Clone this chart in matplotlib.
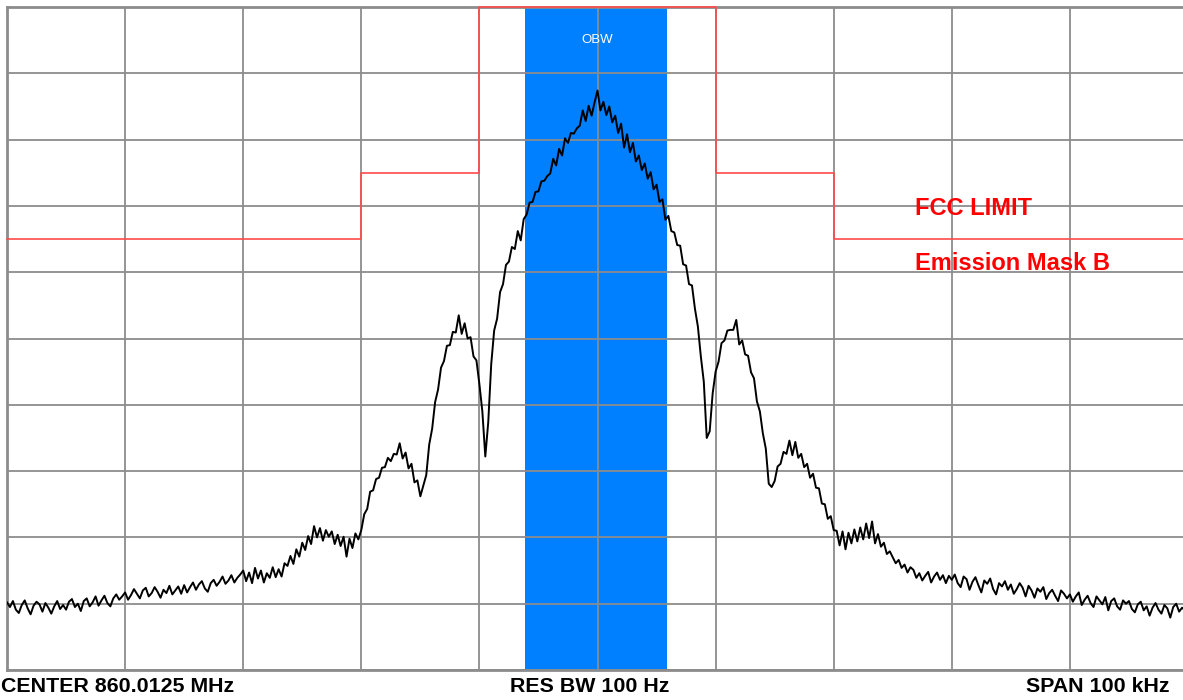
import numpy as np
import matplotlib
matplotlib.use("Agg")
import matplotlib.pyplot as plt

plt.rcParams['font.family'] = ['Liberation Sans', 'DejaVu Sans']

# ---- data -------------------------------------------------------------
# frequency offset from centre (kHz), 0.25 kHz steps
freq_start_khz = -50.0
freq_step_khz = 0.25

# trace level (dB, 0 = top of screen) (5 kHz per row)
trace_db = [
    -89.8, -90.5, -89.6, -90.9, -91.4, -90.2, -89.5, -90.7, -91.6, -90.3, -89.7, -90.1, -91.2, -89.9, -90.6, -91.5, -90.4, -89.6, -90.8, -90.2,
    -90.9, -89.7, -89.3, -90.5, -90.0, -91.1, -89.6, -89.2, -90.4, -89.8, -88.9, -90.3, -89.5, -88.8, -89.9, -90.4, -89.2, -88.6, -89.4, -88.9,
    -88.3, -89.4, -88.7, -87.8, -88.5, -89.2, -88.0, -87.6, -88.9, -88.4, -87.5, -88.2, -89.1, -87.9, -88.4, -87.3, -88.6, -88.0, -87.4, -88.5,
    -87.2, -88.3, -87.5, -86.8, -87.9, -87.1, -86.6, -87.7, -88.2, -86.9, -86.4, -87.3, -86.7, -85.9, -87.0, -86.5, -85.7, -86.8, -86.1, -85.6,
    -85.0, -86.6, -85.3, -86.9, -84.6, -86.2, -85.0, -86.8, -85.4, -86.1, -84.5, -86.0, -84.8, -85.9, -83.9, -84.3, -82.8, -84.0, -81.8, -82.9,
    -80.8, -81.9, -79.8, -81.0, -78.3, -80.0, -78.6, -80.5, -78.9, -79.9, -79.1, -81.0, -79.6, -81.3, -79.9, -82.9, -80.2, -81.6, -79.4, -80.3,
    -78.9, -76.5, -75.7, -73.1, -72.9, -71.2, -71.0, -69.5, -69.4, -68.0, -68.5, -67.4, -67.5, -65.8, -68.1, -67.2, -69.6, -68.9, -71.7, -71.4,
    -73.8, -72.2, -70.6, -66.0, -63.6, -59.6, -57.7, -54.4, -53.4, -51.1, -51.0, -49.0, -49.1, -46.5, -49.3, -47.7, -50.0, -49.8, -52.7, -53.3,
    -56.9, -61.0, -67.8, -62.6, -53.9, -48.8, -47.0, -43.0, -41.8, -38.9, -38.4, -36.2, -36.5, -33.8, -35.2, -32.0, -31.3, -29.5, -29.4, -27.9,
    -27.8, -26.3, -26.2, -25.5, -25.1, -22.9, -23.9, -21.4, -22.4, -19.8, -20.5, -19.0, -19.1, -18.3, -17.9, -15.6, -17.2, -14.9, -16.4, -14.4,
    -12.6, -15.6, -14.3, -16.3, -15.0, -17.4, -16.4, -19.0, -17.6, -21.2, -19.2, -21.9, -20.5, -23.3, -22.4, -24.6, -23.6, -25.9, -24.9, -27.5,
    -26.8, -29.4, -29.0, -32.1, -31.5, -33.8, -34.0, -35.9, -36.0, -38.8, -39.0, -41.8, -42.0, -45.5, -48.2, -52.7, -56.5, -65.0, -64.0, -58.3,
    -55.0, -53.5, -50.7, -50.3, -48.8, -48.7, -48.7, -47.2, -50.9, -50.3, -52.4, -52.6, -55.1, -56.0, -59.5, -61.0, -64.3, -66.6, -71.9, -72.4,
    -71.5, -69.3, -68.9, -67.1, -67.4, -65.4, -67.6, -65.6, -68.0, -67.4, -69.4, -68.9, -71.0, -70.4, -72.5, -72.6, -74.9, -75.0, -77.2, -76.8,
    -78.9, -79.0, -81.2, -79.1, -81.8, -79.3, -80.9, -78.8, -80.6, -78.5, -80.3, -77.9, -80.1, -77.6, -80.9, -79.5, -81.4, -80.8, -82.5, -82.1,
    -83.0, -83.9, -83.4, -84.6, -84.1, -85.3, -84.5, -84.9, -86.1, -85.4, -86.5, -85.8, -85.2, -86.8, -85.9, -85.3, -86.4, -85.7, -86.9, -85.8,
    -86.4, -85.6, -86.9, -87.5, -85.9, -86.3, -87.9, -86.7, -86.0, -87.2, -88.3, -86.5, -87.0, -86.2, -87.8, -88.6, -86.9, -87.4, -86.6, -87.9,
    -87.1, -88.5, -87.8, -86.9, -87.6, -88.9, -87.3, -88.0, -89.1, -87.7, -88.2, -87.5, -89.3, -88.4, -87.9, -88.8, -89.6, -88.0, -88.5, -89.2,
    -88.6, -89.7, -88.9, -88.3, -90.2, -89.4, -88.8, -89.9, -90.5, -88.9, -89.5, -90.1, -89.0, -91.0, -89.6, -89.2, -90.4, -90.9, -89.5, -90.0,
    -89.6, -90.8, -91.3, -90.1, -89.7, -91.0, -90.4, -91.8, -90.6, -89.9, -90.9, -91.5, -90.2, -90.7, -92.1, -90.5, -90.0, -91.2, -90.6, -91.0,
    -90.8,
]

# FCC emission mask B (kHz, dB)
mask_freq_khz = [-50, -20, -20, -10, -10, 10, 10, 20, 20, 50]
mask_db = [-35, -35, -25, -25, 0, 0, -25, -25, -35, -35]

# occupied bandwidth band (kHz)
obw_low_khz = -6.1
obw_high_khz = 5.9

center_label = "CENTER 860.0125 MHz"
rbw_label = "RES BW 100 Hz"
span_label = "SPAN 100 kHz"
limit_label_1 = "FCC LIMIT"
limit_label_2 = "Emission Mask B"
obw_label = "OBW"

# ---- plot -------------------------------------------------------------
freqs = freq_start_khz + freq_step_khz * np.arange(len(trace_db))

W, H = 1183, 700
fig = plt.figure(figsize=(W / 100, H / 100), dpi=100)
fig.patch.set_facecolor('white')
ax = fig.add_axes([7 / W, 30 / H, 1181 / W, 663 / H])
ax.set_xlim(-50, 50)
ax.set_ylim(-100, 0)

ax.axvspan(obw_low_khz, obw_high_khz, color='#007FFF', zorder=1, lw=0)

ax.set_xticks(np.arange(-50, 51, 10))
ax.set_yticks(np.arange(-100, 1, 10))
ax.set_axisbelow(False)
ax.grid(True, color='#8c8c8c', lw=1.3)
ax.tick_params(length=0, labelbottom=False, labelleft=False)
for s in ax.spines.values():
    s.set_color('#8c8c8c')
    s.set_linewidth(2)

ax.plot(mask_freq_khz, mask_db, color='#ff4a4a', lw=1.2, zorder=3, clip_on=False)
ax.plot(freqs, trace_db, color='black', lw=1.4, zorder=4)

ax.text((obw_low_khz + obw_high_khz) / 2 + 0.1, -5.0, obw_label, color='white',
        fontsize=9.5, ha='center', va='center', zorder=5)

ax.text(26.9, -31.4, limit_label_1, color='#ff0000', fontsize=17,
        fontweight='bold', ha='left', va='baseline', zorder=5)
ax.text(26.9, -39.7, limit_label_2, color='#ff0000', fontsize=17,
        fontweight='bold', ha='left', va='baseline', zorder=5)

fs = 15.4
ty = (H - 692) / H
fig.text(1 / W, ty, center_label, fontsize=fs, fontweight='bold', ha='left', va='baseline')
fig.text(590 / W, ty, rbw_label, fontsize=fs, fontweight='bold', ha='center', va='baseline')
fig.text(1169 / W, ty, span_label, fontsize=fs, fontweight='bold', ha='right', va='baseline')

fig.savefig('out.png', dpi=100, facecolor='white')
